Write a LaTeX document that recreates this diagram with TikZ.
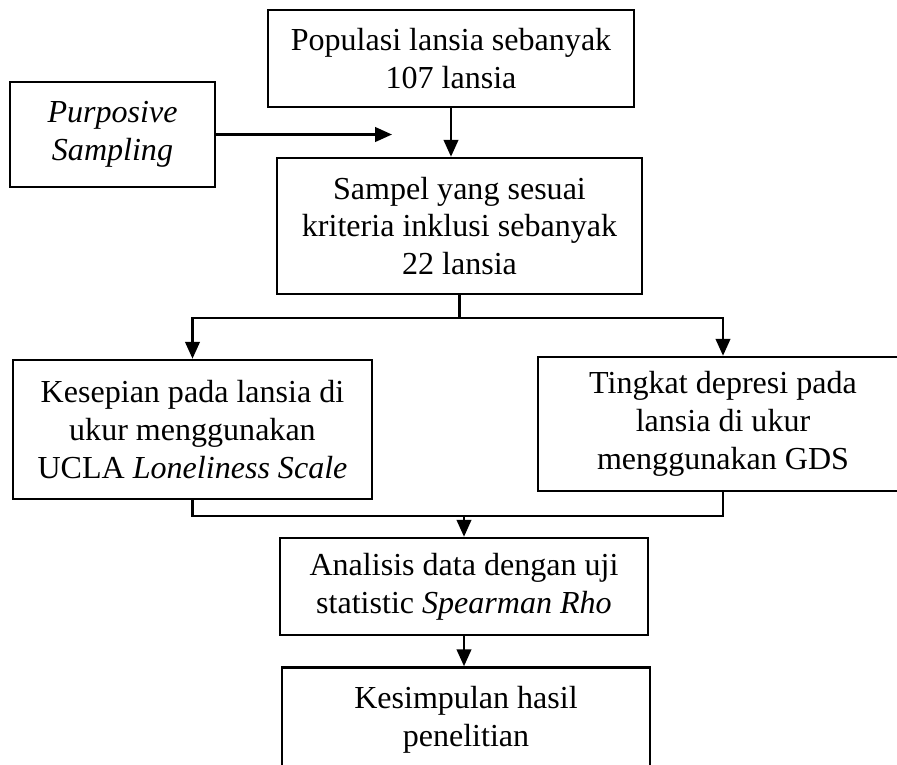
\documentclass[tikz,border=0pt]{standalone}
\usepackage{fontspec}
\setmainfont{Liberation Serif}
\usetikzlibrary{arrows.meta}
\newcommand{\fcfontsize}{\fontsize{22.8pt}{27pt}\selectfont}
\newcommand{\fclinewidth}{1.8pt}

\begin{document}
\begin{tikzpicture}[style=thick,scale=1]
	\clip (0,0) rectangle (22.425,-19.1);
	\begin{scope}[shape=rectangle,line width=\fclinewidth,>={Triangle[length=0.42cm,width=0.36cm]}]
	\tikzstyle{every node}=[draw,line width=\fclinewidth,align=center,inner sep=0pt,font=\fcfontsize]
	\node[minimum width=9.15cm,minimum height=2.425cm] (Populasi) at (11.275,-1.4625) {Populasi lansia sebanyak\\107 lansia};
	\node[minimum width=5.125cm,minimum height=2.625cm] (Purposive) at (2.8125,-3.3625) {\textit{Purposive}\\\textit{Sampling}};
	\node[minimum width=9.125cm,minimum height=3.4cm] (Sampel) at (11.4875,-5.65) {Sampel yang sesuai\\kriteria inklusi sebanyak\\22 lansia};
	\node[minimum width=8.975cm,minimum height=3.475cm] (Kesepian) at (4.8125,-10.7375) {Kesepian pada lansia di\\ukur menggunakan\\UCLA \textit{Loneliness Scale}};
	\node[minimum width=9.25cm,minimum height=3.35cm] (Depresi) at (18.075,-10.6) {Tingkat depresi pada\\lansia di ukur\\menggunakan GDS};
	\node[minimum width=9.2cm,minimum height=2.425cm] (Analisis) at (11.6,-14.6625) {Analisis data dengan uji\\statistic \textit{Spearman Rho}};
	\node[minimum width=9.2cm,minimum height=2.625cm] (Kesimpulan) at (11.65,-18.0) {Kesimpulan hasil\\penelitian};
	\coordinate (S_tip) at (9.8,-3.3625);
	\coordinate (S_split) at (11.4875,-7.95);
	\coordinate (S_merge) at (11.6,-12.9);
	\draw [->] (Purposive.east) -- (S_tip);
	\draw [->] (Populasi.south) -- (Populasi.south |- Sampel.north);
	\draw [-] (Sampel.south) -- (S_split);
	\draw [->] (S_split) -| (Kesepian.north);
	\draw [->] (S_split) -| (Depresi.north);
	\draw [-] (Kesepian.south) |- (S_merge) -| (Depresi.south);
	\draw [->] (S_merge) -- (Analisis.north);
	\draw [->] (Analisis.south) -- (Analisis.south |- Kesimpulan.north);
	\end{scope}
\end{tikzpicture}
\end{document}
